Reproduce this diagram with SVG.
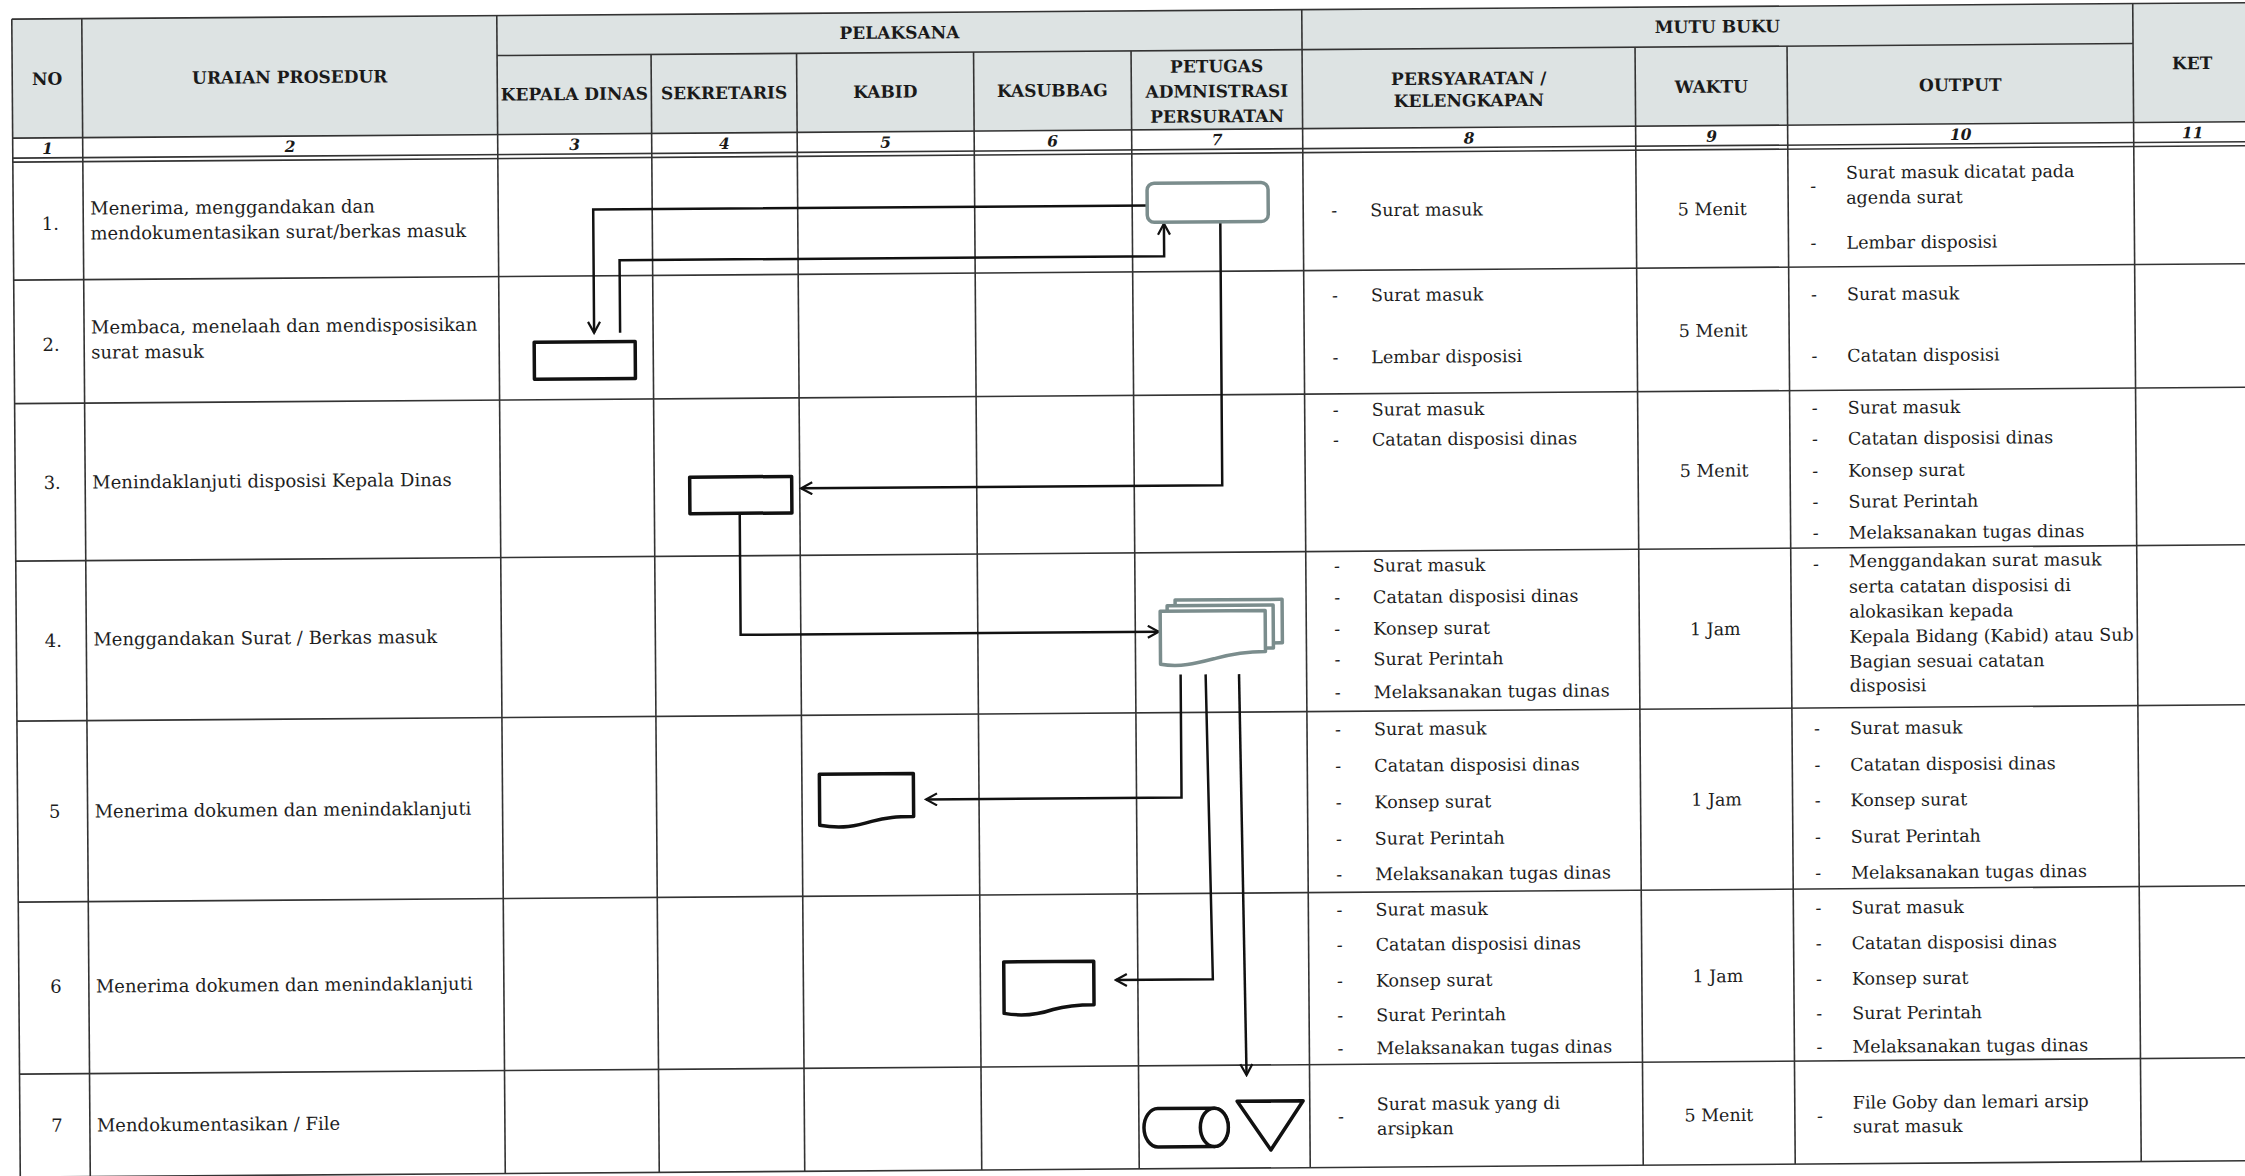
<svg xmlns="http://www.w3.org/2000/svg" width="2245" height="1176" viewBox="0 0 2245 1176">
<style>
.grid line{stroke:#333;stroke-width:1.6}
.hdr{font-family:"DejaVu Serif","Liberation Serif",serif;font-weight:bold;font-size:17px;text-anchor:middle;fill:#1a1a1a}
.num{font-family:"DejaVu Serif","Liberation Serif",serif;font-weight:bold;font-style:italic;font-size:15.5px;text-anchor:middle;fill:#1a1a1a}
.proc{font-family:"DejaVu Serif","Liberation Serif",serif;font-size:18px;fill:#1e1e1e}
.rn{font-family:"DejaVu Serif","Liberation Serif",serif;font-size:18px;fill:#1e1e1e;text-anchor:middle}
.it{font-family:"DejaVu Serif","Liberation Serif",serif;font-size:17.5px;fill:#1e1e1e}
.mid{text-anchor:middle}
.conn{fill:none;stroke:#111;stroke-width:2.5}
.shape{fill:#fff;stroke:#111;stroke-width:3.5;stroke-linejoin:round}
.gshape{fill:#fff;stroke:#7b8d8d;stroke-width:3.5;stroke-linejoin:round}
</style>
<defs>
<marker id="arr" viewBox="0 0 14 14" refX="12" refY="7" markerWidth="14" markerHeight="14" markerUnits="userSpaceOnUse" orient="auto">
<path d="M1,1 L12,7 L1,13" fill="none" stroke="#111" stroke-width="2.2"/>
</marker>
</defs>
<rect width="2245" height="1176" fill="#fff"/>
<g transform="rotate(-0.42 1122 590)">
<g id="table">
<rect x="16" y="11" width="2240" height="119" fill="#dde3e3"/>
<g class="grid">
<line x1="16" y1="11" x2="2256" y2="11"/>
<line x1="501" y1="51" x2="2137" y2="51"/>
<line x1="16" y1="130" x2="2256" y2="130"/>
<line x1="16" y1="150" x2="2256" y2="150"/>
<line x1="16" y1="154" x2="2256" y2="154"/>
<line x1="16" y1="272" x2="2256" y2="272"/>
<line x1="16" y1="395.5" x2="2256" y2="395.5"/>
<line x1="16" y1="553" x2="2256" y2="553"/>
<line x1="16" y1="713" x2="2256" y2="713"/>
<line x1="16" y1="894" x2="2256" y2="894"/>
<line x1="16" y1="1066" x2="2256" y2="1066"/>
<line x1="16" y1="1169" x2="2256" y2="1169"/>
<line x1="16" y1="11" x2="16" y2="1169"/>
<line x1="86" y1="11" x2="86" y2="1169"/>
<line x1="501" y1="11" x2="501" y2="1169"/>
<line x1="655" y1="51" x2="655" y2="1169"/>
<line x1="800.5" y1="51" x2="800.5" y2="1169"/>
<line x1="977.5" y1="51" x2="977.5" y2="1169"/>
<line x1="1135" y1="51" x2="1135" y2="1169"/>
<line x1="1306" y1="11" x2="1306" y2="1169"/>
<line x1="1639" y1="51" x2="1639" y2="1169"/>
<line x1="1791" y1="51" x2="1791" y2="1169"/>
<line x1="2137" y1="11" x2="2137" y2="1169"/>
<line x1="2256" y1="11" x2="2256" y2="1169"/>
</g>
</g>
<g id="header">
<text class="hdr" x="51" y="77">NO</text>
<text class="hdr" x="293.5" y="77">URAIAN PROSEDUR</text>
<text class="hdr" x="903.5" y="37">PELAKSANA</text>
<text class="hdr" x="1721.5" y="37">MUTU BUKU</text>
<text class="hdr" x="578" y="96">KEPALA DINAS</text>
<text class="hdr" x="727.7" y="96">SEKRETARIS</text>
<text class="hdr" x="889" y="96">KABID</text>
<text class="hdr" x="1056" y="96">KASUBBAG</text>
<text class="hdr" x="1220.5" y="73">PETUGAS</text>
<text class="hdr" x="1220.5" y="98">ADMNISTRASI</text>
<text class="hdr" x="1220.5" y="123">PERSURATAN</text>
<text class="hdr" x="1472.5" y="87">PERSYARATAN /</text>
<text class="hdr" x="1472.5" y="109">KELENGKAPAN</text>
<text class="hdr" x="1715" y="97">WAKTU</text>
<text class="hdr" x="1964" y="97">OUTPUT</text>
<text class="hdr" x="2196" y="77">KET</text>
<text class="num" x="51" y="146">1</text>
<text class="num" x="293.5" y="146">2</text>
<text class="num" x="578" y="146">3</text>
<text class="num" x="727.7" y="146">4</text>
<text class="num" x="889" y="146">5</text>
<text class="num" x="1056" y="146">6</text>
<text class="num" x="1220.5" y="146">7</text>
<text class="num" x="1472.5" y="146">8</text>
<text class="num" x="1715" y="146">9</text>
<text class="num" x="1964" y="146">10</text>
<text class="num" x="2196" y="146">11</text>
</g>
<g id="procedures">
<text class="rn" x="53" y="222">1.</text>
<text class="proc" x="93" y="207">Menerima, menggandakan dan</text>
<text class="proc" x="93" y="232">mendokumentasikan surat/berkas masuk</text>
<text class="rn" x="53" y="343">2.</text>
<text class="proc" x="93" y="326">Membaca, menelaah dan mendisposisikan</text>
<text class="proc" x="93" y="351">surat masuk</text>
<text class="rn" x="53" y="481">3.</text>
<text class="proc" x="93" y="481">Menindaklanjuti disposisi Kepala Dinas</text>
<text class="rn" x="53" y="639">4.</text>
<text class="proc" x="93" y="638">Menggandakan Surat / Berkas masuk</text>
<text class="rn" x="53" y="810">5</text>
<text class="proc" x="93" y="810">Menerima dokumen dan menindaklanjuti</text>
<text class="rn" x="53" y="985">6</text>
<text class="proc" x="93" y="985">Menerima dokumen dan menindaklanjuti</text>
<text class="rn" x="53" y="1124">7</text>
<text class="proc" x="93" y="1124">Mendokumentasikan / File</text>
</g>
<g id="persyaratan" class="it">
<text class="mid" x="1337" y="218">-</text><text x="1373" y="218">Surat masuk</text>
<text class="mid" x="1337" y="303">-</text><text x="1373" y="303">Surat masuk</text>
<text class="mid" x="1337" y="365">-</text><text x="1373" y="365">Lembar disposisi</text>
<text class="mid" x="1337" y="417.5">-</text><text x="1373" y="417.5">Surat masuk</text>
<text class="mid" x="1337" y="447.5">-</text><text x="1373" y="447.5">Catatan disposisi dinas</text>
<text class="mid" x="1337" y="573.5">-</text><text x="1373" y="573.5">Surat masuk</text>
<text class="mid" x="1337" y="605">-</text><text x="1373" y="605">Catatan disposisi dinas</text>
<text class="mid" x="1337" y="636.5">-</text><text x="1373" y="636.5">Konsep surat</text>
<text class="mid" x="1337" y="667">-</text><text x="1373" y="667">Surat Perintah</text>
<text class="mid" x="1337" y="700">-</text><text x="1373" y="700">Melaksanakan tugas dinas</text>
<text class="mid" x="1337" y="737">-</text><text x="1373" y="737">Surat masuk</text>
<text class="mid" x="1337" y="773.5">-</text><text x="1373" y="773.5">Catatan disposisi dinas</text>
<text class="mid" x="1337" y="810">-</text><text x="1373" y="810">Konsep surat</text>
<text class="mid" x="1337" y="846.5">-</text><text x="1373" y="846.5">Surat Perintah</text>
<text class="mid" x="1337" y="882">-</text><text x="1373" y="882">Melaksanakan tugas dinas</text>
<text class="mid" x="1337" y="917.5">-</text><text x="1373" y="917.5">Surat masuk</text>
<text class="mid" x="1337" y="952.5">-</text><text x="1373" y="952.5">Catatan disposisi dinas</text>
<text class="mid" x="1337" y="988.5">-</text><text x="1373" y="988.5">Konsep surat</text>
<text class="mid" x="1337" y="1023">-</text><text x="1373" y="1023">Surat Perintah</text>
<text class="mid" x="1337" y="1056">-</text><text x="1373" y="1056">Melaksanakan tugas dinas</text>
<text class="mid" x="1337" y="1124">-</text><text x="1373" y="1112">Surat masuk yang di</text>
<text x="1373" y="1136.5">arsipkan</text>
</g>
<g id="waktu" class="it">
<text class="mid" x="1715" y="219.5">5 Menit</text>
<text class="mid" x="1715" y="341">5 Menit</text>
<text class="mid" x="1715" y="481">5 Menit</text>
<text class="mid" x="1715" y="639.5">1 Jam</text>
<text class="mid" x="1715" y="810">1 Jam</text>
<text class="mid" x="1715" y="986.5">1 Jam</text>
<text class="mid" x="1715" y="1125.5">5 Menit</text>
</g>
<g id="output" class="it">
<text class="mid" x="1816" y="197">-</text><text x="1849" y="184">Surat masuk dicatat pada</text>
<text x="1849" y="209">agenda surat</text>
<text class="mid" x="1816" y="254">-</text><text x="1849" y="254">Lembar disposisi</text>
<text class="mid" x="1816" y="305.5">-</text><text x="1849" y="305.5">Surat masuk</text>
<text class="mid" x="1816" y="367">-</text><text x="1849" y="367">Catatan disposisi</text>
<text class="mid" x="1816" y="419">-</text><text x="1849" y="419">Surat masuk</text>
<text class="mid" x="1816" y="450">-</text><text x="1849" y="450">Catatan disposisi dinas</text>
<text class="mid" x="1816" y="482">-</text><text x="1849" y="482">Konsep surat</text>
<text class="mid" x="1816" y="513">-</text><text x="1849" y="513">Surat Perintah</text>
<text class="mid" x="1816" y="544">-</text><text x="1849" y="544">Melaksanakan tugas dinas</text>
<text class="mid" x="1816" y="575">-</text><text x="1849" y="572.5">Menggandakan surat masuk</text>
<text x="1849" y="598">serta catatan disposisi di</text>
<text x="1849" y="623">alokasikan kepada</text>
<text x="1849" y="648">Kepala Bidang (Kabid) atau Sub</text>
<text x="1849" y="673">Bagian sesuai catatan</text>
<text x="1849" y="697">disposisi</text>
<text class="mid" x="1816" y="739.5">-</text><text x="1849" y="739.5">Surat masuk</text>
<text class="mid" x="1816" y="776">-</text><text x="1849" y="776">Catatan disposisi dinas</text>
<text class="mid" x="1816" y="811.5">-</text><text x="1849" y="811.5">Konsep surat</text>
<text class="mid" x="1816" y="848">-</text><text x="1849" y="848">Surat Perintah</text>
<text class="mid" x="1816" y="884">-</text><text x="1849" y="884">Melaksanakan tugas dinas</text>
<text class="mid" x="1816" y="919">-</text><text x="1849" y="919">Surat masuk</text>
<text class="mid" x="1816" y="954.5">-</text><text x="1849" y="954.5">Catatan disposisi dinas</text>
<text class="mid" x="1816" y="990">-</text><text x="1849" y="990">Konsep surat</text>
<text class="mid" x="1816" y="1024.5">-</text><text x="1849" y="1024.5">Surat Perintah</text>
<text class="mid" x="1816" y="1058">-</text><text x="1849" y="1058">Melaksanakan tugas dinas</text>
<text class="mid" x="1816" y="1127">-</text><text x="1849" y="1114">File Goby dan lemari arsip</text>
<text x="1849" y="1138">surat masuk</text>
</g>
<g id="connectors">
<path class="conn" d="M1150,205.7 H596 V329" marker-end="url(#arr)"/>
<path class="conn" d="M622,329 V256.5 H1166.6 V224" marker-end="url(#arr)"/>
<path class="conn" d="M1223,223 V486 H802" marker-end="url(#arr)"/>
<path class="conn" d="M740.3,511 V632 H1158.5" marker-end="url(#arr)"/>
<path class="conn" d="M1180,675 V798 H924.5" marker-end="url(#arr)"/>
<path class="conn" d="M1205,675 L1210,980 H1113" marker-end="url(#arr)"/>
<path class="conn" d="M1238.4,675 L1243,1076" marker-end="url(#arr)"/>
</g>
<g id="n1-terima">
<rect class="gshape" x="1150" y="183.5" width="121" height="39" rx="7"/>
</g>
<g id="n2-kadis">
<rect class="shape" x="536" y="338" width="101" height="37" stroke-width="4"/>
</g>
<g id="n3-sekretaris">
<rect class="shape" x="690.5" y="474" width="102" height="36.5" stroke-width="2.5"/>
</g>
<g id="n4-gandakan">
<rect class="gshape" x="1175" y="600.5" width="107" height="43.5"/>
<rect class="gshape" x="1167" y="606" width="106" height="43"/>
<path class="gshape" d="M1160,611.5 H1265 V652.5 C1245,652.5 1230,655 1215,659 C1195,664 1180,668 1160,664.5 Z"/>
</g>
<g id="n5-kabid">
<path class="shape" d="M818,772 H912 V815 C895,815 885,815.5 870,819.5 C855,824 840,827 818,823 Z"/>
</g>
<g id="n6-kasubbag">
<path class="shape" d="M1001,961 H1091 V1004.5 C1075,1004.5 1065,1005 1050,1009 C1035,1014 1020,1016 1001,1012.5 Z" stroke-width="3"/>
</g>
<g id="n7-arsip">
<path class="shape" d="M1154,1108.8 H1210.4 A14,19.2 0 0 1 1210.4,1147.2 H1154 A14,19.2 0 0 1 1154,1108.8 Z"/>
<ellipse class="shape" cx="1210.4" cy="1128" rx="14" ry="19.2"/>
</g>
<g id="n7-file">
<path class="shape" d="M1233.4,1102 L1299.4,1102 L1266.8,1151 Z"/>
</g>
</g>
</svg>
